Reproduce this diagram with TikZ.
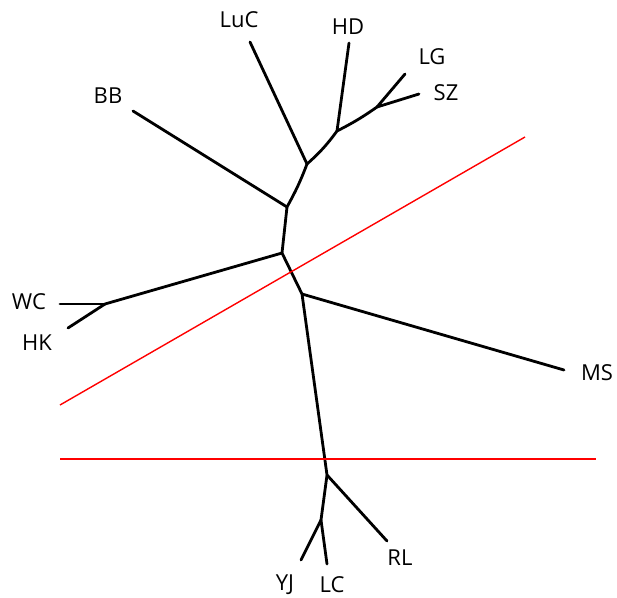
\documentclass[tikz,border=0pt]{standalone}
\usepackage{fontspec}
\setmainfont{Open Sans}
\begin{document}
\begin{tikzpicture}[x=1pt,y=-1pt,
  branch/.style={line width=2.8pt,line cap=round,line join=round},
  cut/.style={red,line width=1.4pt},
  taxon/.style={font=\fontsize{22}{26}\selectfont,inner sep=0pt}]
\useasboundingbox (0,0) rectangle (617,597);
% internal nodes
\coordinate (n1) at (377,107);
\coordinate (n2) at (337,131);
\coordinate (n3) at (307,164);
\coordinate (n4) at (287,207);
\coordinate (n5) at (282,253);
\coordinate (n6) at (302,294);
\coordinate (n7) at (327,475);
\coordinate (n8) at (321,520);
\coordinate (w)  at (105,304);
% leaf ends
\coordinate (tLG)  at (405,74);
\coordinate (tSZ)  at (419,94);
\coordinate (tHD)  at (349,43);
\coordinate (tLuC) at (250,42);
\coordinate (tBB)  at (133,111);
\coordinate (tWC)  at (60,304);
\coordinate (tHK)  at (68,328);
\coordinate (tMS)  at (564,370);
\coordinate (tRL)  at (387,541);
\coordinate (tYJ)  at (301,560);
\coordinate (tLC)  at (327,564);
% taxon labels
\node[taxon] (LuC) at (239,20) {LuC};
\node[taxon] (HD)  at (348,27) {HD};
\node[taxon] (LG)  at (432,57) {LG};
\node[taxon] (SZ)  at (446,93) {SZ};
\node[taxon] (BB)  at (108,96) {BB};
\node[taxon] (WC)  at (29,302) {WC};
\node[taxon] (HK)  at (37,343) {HK};
\node[taxon] (MS)  at (597,373) {MS};
\node[taxon] (RL)  at (400,558) {RL};
\node[taxon] (YJ)  at (285,585) {YJ};
\node[taxon] (LC)  at (332,585) {LC};
% tree backbone
\draw[branch] (n1) to[bend left=4] (n2) to[bend left=6] (n3) to[bend left=4] (n4) -- (n5) -- (n6) -- (n7) -- (n8);
% terminal branches
\draw[branch] (n1) -- (tLG);
\draw[branch] (n1) -- (tSZ);
\draw[branch] (n2) -- (tHD);
\draw[branch] (n3) -- (tLuC);
\draw[branch] (n4) -- (tBB);
\draw[branch] (n5) -- (w);
\draw[branch] (w) -- (tWC);
\draw[branch] (w) -- (tHK);
\draw[branch] (n6) -- (tMS);
\draw[branch] (n7) -- (tRL);
\draw[branch] (n8) -- (tYJ);
\draw[branch] (n8) -- (tLC);
% cut lines
\coordinate (c1) at (60,405);
\coordinate (c2) at (525,137);
\coordinate (c3) at (60,459);
\coordinate (c4) at (596,459);
\draw[cut] (c1) -- (c2);
\draw[cut,line width=2pt] (c3) -- (c4);
\end{tikzpicture}
\end{document}
